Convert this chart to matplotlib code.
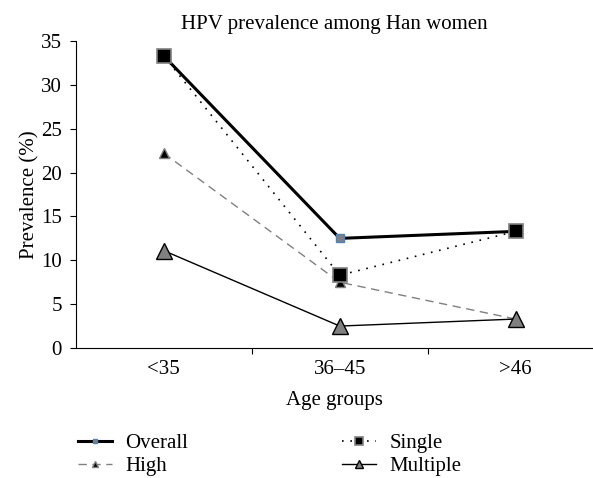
import matplotlib
matplotlib.use("Agg")
import matplotlib.pyplot as plt
import numpy as np

plt.rcParams['font.family'] = ['Liberation Serif', 'DejaVu Serif']

age_groups = ["<35", "36\u201345", ">46"]
overall = [33.3, 12.5, 13.3]
single = [33.3, 8.3, 13.3]
high = [22.2, 7.5, 3.3]
multiple = [11.1, 2.5, 3.3]

x = np.arange(len(age_groups))
fs = 15

fig = plt.figure(figsize=(5.93, 4.78), dpi=100)
ax = fig.add_axes([0.128, 0.272, 0.872, 0.642])

# overall: thick black line with small blue-edged square
ax.plot(x, overall, color='black', linewidth=2.2, marker='s', markersize=6,
        markerfacecolor='#808080', markeredgecolor='#4F81BD', markeredgewidth=1,
        label="Overall", zorder=3)
ax.plot(x, high, color='#808080', linestyle=(0, (6, 4)), linewidth=1,
        marker='^', markersize=7, markerfacecolor='black', markeredgecolor='#808080',
        label="High", zorder=2)
ax.plot(x, single, color='black', linestyle=(0, (1, 4)), linewidth=1.2,
        marker='s', markersize=10, markerfacecolor='black', markeredgecolor='#808080',
        markeredgewidth=1.2, label="Single", zorder=4)
ax.plot(x, multiple, color='black', linewidth=1, marker='^', markersize=11,
        markerfacecolor='#808080', markeredgecolor='black', markeredgewidth=1,
        label="Multiple", zorder=5)

ax.set_xlim(-0.5, 2.44)
ax.set_ylim(0, 35)
ax.set_yticks(range(0, 36, 5))
ax.set_xticks([0.5, 1.5])
ax.set_xticklabels([])
ax.set_xticks(x, minor=True)
ax.set_xticklabels(age_groups, minor=True)
ax.tick_params(axis='x', which='minor', length=0, pad=9, labelsize=fs)
ax.tick_params(axis='x', which='major', length=4, direction='out')
ax.tick_params(axis='y', length=4, pad=6, labelsize=fs, direction='out')

for s in ['top', 'right']:
    ax.spines[s].set_visible(False)

ax.set_title("HPV prevalence among Han women", fontsize=fs, pad=9)
ax.set_ylabel("Prevalence (%)", fontsize=fs, labelpad=1)
ax.set_xlabel("Age groups", fontsize=fs, labelpad=8)

fig.legend(loc='upper left', bbox_to_anchor=(0.1315, 0.093), ncol=2, frameon=False,
           fontsize=fs, columnspacing=7.4, handlelength=1.63, handletextpad=0.63,
           labelspacing=0.15, borderpad=0, borderaxespad=0, markerscale=0.55)

fig.savefig("out.png", dpi=100)
